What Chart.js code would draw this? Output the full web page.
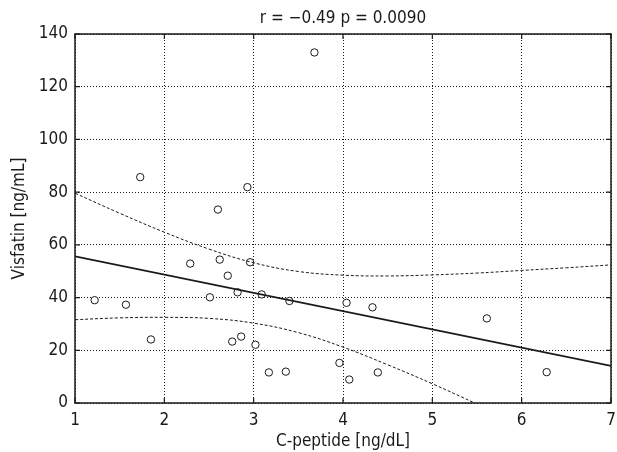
<!DOCTYPE html>
<html>
<head>
<meta charset="utf-8">
<script src="https://cdn.jsdelivr.net/npm/chart.js@4.4.0/dist/chart.umd.min.js"></script>
<style>
    body { margin: 0; background: #fff; }
    #wrap { width: 617px; height: 452px; }
</style>
</head>
<body>
<div id="wrap"><canvas id="scatterChart" width="617" height="452"></canvas></div>
<script>
// C-peptide [ng/dL] vs Visfatin [ng/mL]
const cPeptide = [1.22, 1.57, 1.73, 1.85, 2.29, 2.51, 2.60, 2.62, 2.71, 2.76, 2.82, 2.86, 2.93, 2.96,
    3.02, 3.09, 3.17, 3.36, 3.40, 3.68, 3.96, 4.04, 4.07, 4.33, 4.39, 5.61, 6.28];
const visfatin = [39.0, 37.3, 85.7, 24.1, 52.9, 40.1, 73.4, 54.4, 48.3, 23.3, 42.0, 25.2, 81.9, 53.4,
    22.1, 41.2, 11.6, 11.9, 38.7, 133.0, 15.2, 38.0, 8.9, 36.3, 11.6, 32.1, 11.7];

// regression line end points
const fitX = [1, 7];
const fitY = [55.6, 14.1];

// confidence band, read at half steps
const bandX = [1, 1.5, 2, 2.5, 3, 3.5, 4, 4.5, 5, 5.5, 6, 6.5, 7];
const bandUpper = [79.6, 72.0, 64.8, 58.4, 53.2, 49.9, 48.5, 48.2, 48.6, 49.3, 50.3, 51.3, 52.4];
const bandLower = [31.6, 32.3, 32.5, 32.1, 30.3, 26.7, 21.2, 14.5, 7.3, -0.4, -8.2, -16.2, -24.2];

const xTicks = [1, 2, 3, 4, 5, 6, 7];
const yTicks = [0, 20, 40, 60, 80, 100, 120, 140];

const fontFamily = '"Liberation Sans Narrow", "DejaVu Sans Condensed", "Liberation Sans", sans-serif';
const ink = "#1a1a1a";

function toPoints(xs, ys) {
    return xs.map((x, i) => ({ x: x, y: ys[i] }));
}

// frame around the plot with short inward ticks on all four sides
const framePlugin = {
    id: "frame",
    afterDraw(chart) {
        const ctx = chart.ctx;
        const a = chart.chartArea;
        const xs = chart.scales.x;
        const ys = chart.scales.y;
        const len = 5;
        ctx.save();
        ctx.strokeStyle = ink;
        ctx.lineWidth = 1.5;
        ctx.strokeRect(a.left, a.top, a.right - a.left, a.bottom - a.top);
        ctx.lineWidth = 1.2;
        ctx.beginPath();
        xTicks.forEach((t) => {
            const px = xs.getPixelForValue(t);
            ctx.moveTo(px, a.bottom); ctx.lineTo(px, a.bottom - len);
            ctx.moveTo(px, a.top); ctx.lineTo(px, a.top + len);
        });
        yTicks.forEach((t) => {
            const py = ys.getPixelForValue(t);
            ctx.moveTo(a.left, py); ctx.lineTo(a.left + len, py);
            ctx.moveTo(a.right, py); ctx.lineTo(a.right - len, py);
        });
        ctx.stroke();
        ctx.restore();
    }
};

const ctx = document.getElementById("scatterChart").getContext("2d");
new Chart(ctx, {
    type: "scatter",
    data: {
        datasets: [
            {
                label: "upper",
                data: toPoints(bandX, bandUpper),
                showLine: true,
                borderColor: ink,
                borderWidth: 1,
                borderDash: [3, 2],
                pointRadius: 0,
                tension: 0.4,
            },
            {
                label: "lower",
                data: toPoints(bandX, bandLower),
                showLine: true,
                borderColor: ink,
                borderWidth: 1,
                borderDash: [3, 2],
                pointRadius: 0,
                tension: 0.4,
            },
            {
                label: "fit",
                data: toPoints(fitX, fitY),
                showLine: true,
                borderColor: ink,
                borderWidth: 1.8,
                pointRadius: 0,
            },
            {
                label: "patients",
                data: toPoints(cPeptide, visfatin),
                pointRadius: 3.7,
                pointBackgroundColor: "#fff",
                pointBorderColor: ink,
                pointBorderWidth: 1,
            },
        ],
    },
    options: {
        responsive: false,
        animation: false,
        layout: { padding: { left: 0, right: 0, top: 0, bottom: 0 } },
        plugins: {
            legend: { display: false },
            tooltip: { enabled: false },
            title: {
                display: true,
                fullSize: false,
                text: "r = \u22120.49 p = 0.0090",
                color: ink,
                font: { family: fontFamily, size: 17, weight: "normal", lineHeight: 1.2 },
                padding: { top: 8.5, bottom: 5.1 },
            },
        },
        scales: {
            x: {
                type: "linear",
                min: 1,
                max: 7,
                afterBuildTicks: (s) => { s.ticks = xTicks.map((v) => ({ value: v })); },
                afterFit: (s) => {
                    s.height = 49;
                    s.paddingRight = 6;
                },
                grid: {
                    color: ink,
                    lineWidth: 1,
                    drawTicks: false,
                },
                border: { display: false, dash: [1, 2] },
                ticks: {
                    color: ink,
                    padding: 7,
                    font: { family: fontFamily, size: 17 },
                },
                title: {
                    display: true,
                    text: "C-peptide [ng/dL]",
                    color: ink,
                    font: { family: fontFamily, size: 17 },
                    padding: { top: 0, bottom: 0 },
                },
            },
            y: {
                type: "linear",
                min: 0,
                max: 140,
                afterBuildTicks: (s) => { s.ticks = yTicks.map((v) => ({ value: v })); },
                afterFit: (s) => { s.width = 75; },
                grid: {
                    color: ink,
                    lineWidth: 1,
                    drawTicks: false,
                },
                border: { display: false, dash: [1, 2] },
                ticks: {
                    color: ink,
                    padding: 7,
                    font: { family: fontFamily, size: 17 },
                },
                title: {
                    display: true,
                    text: "Visfatin [ng/mL]",
                    color: ink,
                    font: { family: fontFamily, size: 17 },
                    padding: { top: 9, bottom: 0 },
                },
            },
        },
    },
    plugins: [framePlugin],
});
</script>
</body>
</html>
